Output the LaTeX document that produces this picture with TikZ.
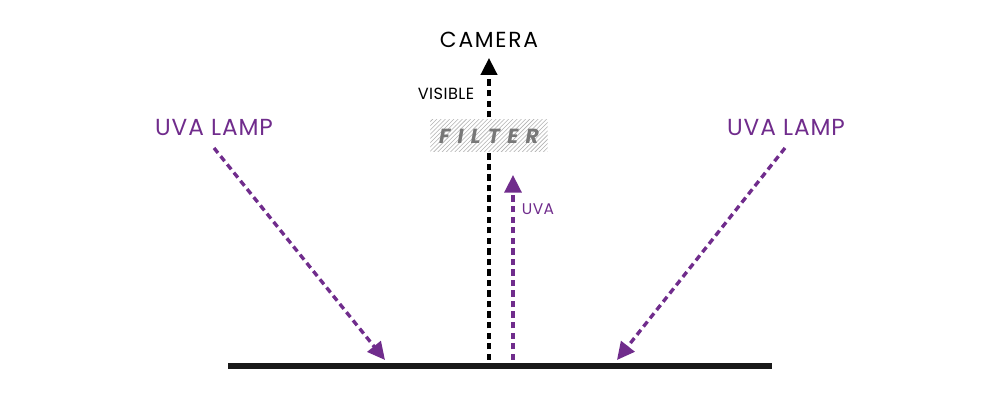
\documentclass[tikz,border=0pt]{standalone}
\usepackage{fontspec}
\setmainfont{Poppins}
\newfontfamily\widefont[LetterSpace=8]{Poppins}
\newfontfamily\lampfont[LetterSpace=4]{Poppins}
\newfontfamily\smallfont[LetterSpace=3]{Poppins}
\newfontfamily\filterfont[LetterSpace=36]{Poppins}
\usetikzlibrary{arrows.meta,patterns}
\definecolor{uvpurple}{RGB}{112,44,140}
\definecolor{filtergray}{RGB}{120,120,120}

\begin{document}
\begin{tikzpicture}[x=0.025cm,y=0.025cm,
  visray/.style={black,line width=2.4pt,dash pattern=on 4.5pt off 3pt,-{Triangle[length=12pt,width=11.5pt]}},
  uvray/.style={uvpurple,line width=2.4pt,dash pattern=on 4.5pt off 3pt,-{Triangle[length=12.5pt,width=12pt]}},
  every node/.style={inner sep=0pt}]
\useasboundingbox (0,0) rectangle (1000,400);
% surface
\coordinate (sl) at (228,34);
\coordinate (sr) at (772,34);
\draw[black!90,line width=4.3pt] (sl) -- (sr);
% texts
\node (camera) at (489,360) {\fontsize{15.5}{17}\selectfont\widefont CAMERA};
\node (visible) at (446,306) {\fontsize{11.5}{13}\selectfont\smallfont VISIBLE};
\node[uvpurple] (uva) at (538,191) {\fontsize{11}{13}\selectfont\smallfont UVA};
\node[uvpurple] (lampL) at (214,272) {\fontsize{16.5}{18}\selectfont\lampfont UVA LAMP};
\node[uvpurple] (lampR) at (786,272) {\fontsize{16.5}{18}\selectfont\lampfont UVA LAMP};
% rays
\coordinate (visfoot) at (489,40);
\coordinate (camtip) at (489,342);
\coordinate (uvfoot) at (513,40);
\coordinate (uvtip) at (513,225);
\coordinate (hitL) at (385,40);
\coordinate (hitR) at (617,40);
\coordinate (srcL) at (214,252);
\coordinate (srcR) at (785,252);
\draw[visray] (visfoot) -- (camtip);
\draw[uvray] (uvfoot) -- (uvtip);
\draw[uvray] (srcL) -- (hitL);
\draw[uvray] (srcR) -- (hitR);
% filter
\node[minimum width=2.93cm,minimum height=0.8cm,preaction={fill=white},
  pattern=north east lines,pattern color=black!30] (filter) at (489,264) {};
\node[filtergray] (filterlbl) at (filter) {\fontsize{14.5}{16}\selectfont\filterfont\bfseries\itshape FILTER};
\end{tikzpicture}
\end{document}
